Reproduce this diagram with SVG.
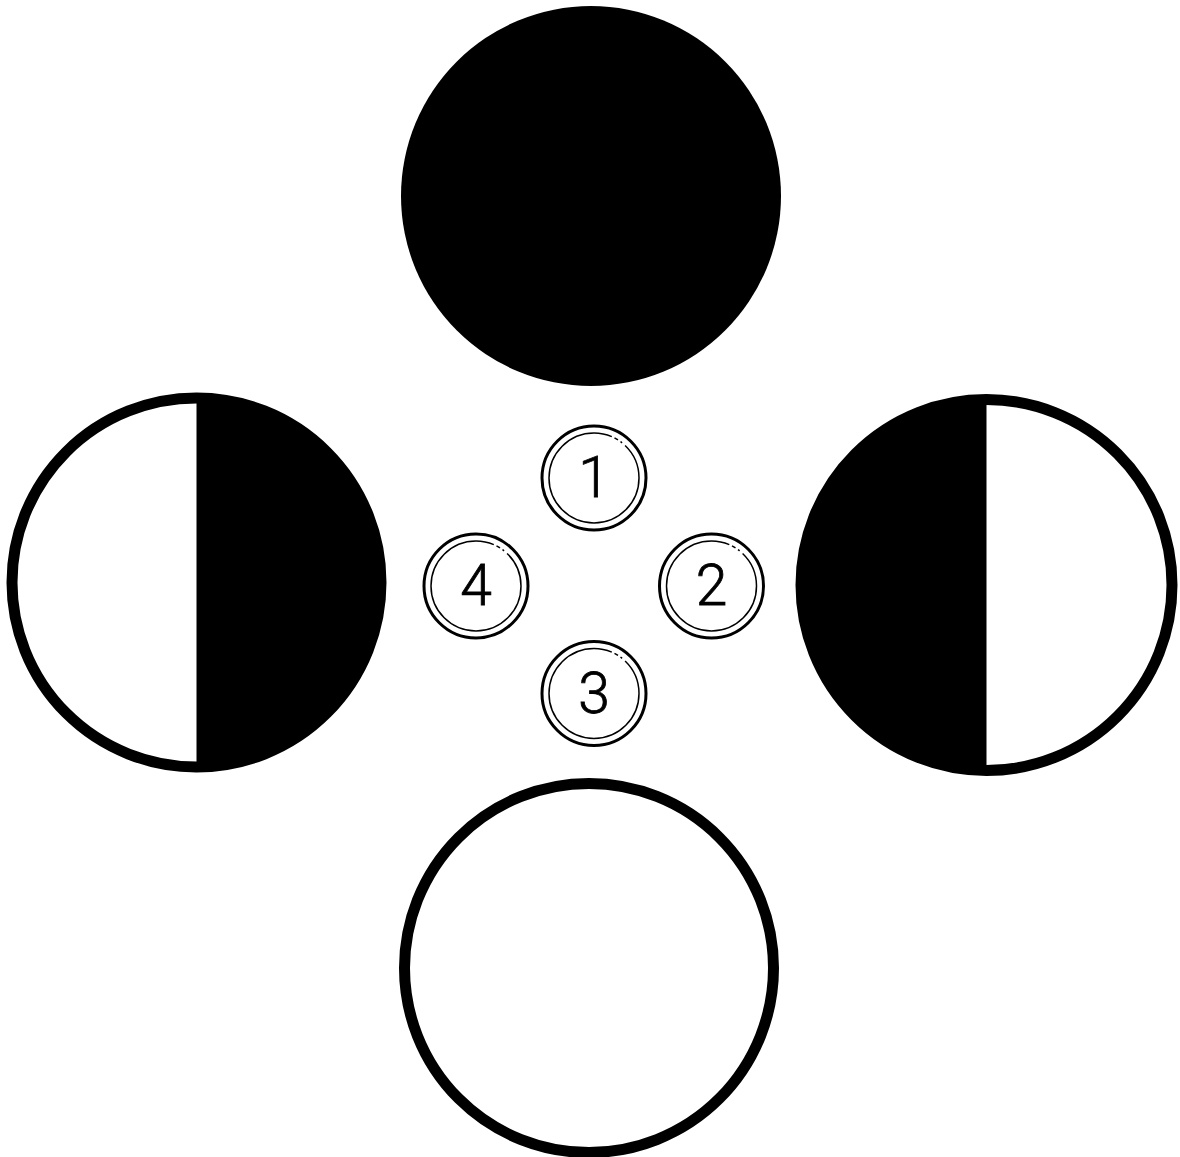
<svg xmlns="http://www.w3.org/2000/svg" width="1180" height="1157" viewBox="0 0 1180 1157">
<style>
.ring{fill:#fff;stroke:#000;stroke-width:11}
.outer{fill:#fff;stroke:#000;stroke-width:3}
.inner{fill:none;stroke:#000;stroke-width:1.5;stroke-dasharray:230 3 4 3 2 4 40}
.num{font-family:Roboto,"Liberation Sans",sans-serif;font-weight:300;font-size:57px;fill:#000;stroke:#000;stroke-width:0.8;text-anchor:middle}
</style>
<rect width="1180" height="1157" fill="#fff"/>
<g id="moon-top">
<circle cx="591" cy="196" r="190" fill="#000"/>
</g>
<g id="moon-left">
<circle class="ring" cx="196.5" cy="582.5" r="184.5"/>
<path d="M196.5 398 A184.5 184.5 0 0 1 196.5 767 Z" fill="#000"/>
</g>
<g id="moon-right">
<circle class="ring" cx="986.5" cy="585" r="185.5"/>
<path d="M986.5 399.5 A185.5 185.5 0 0 0 986.5 770.5 Z" fill="#000"/>
</g>
<g id="moon-bottom">
<circle class="ring" cx="589" cy="968" r="184.5"/>
</g>
<g id="badge-1">
<circle class="outer" cx="594" cy="478" r="52"/>
<circle class="inner" cx="594" cy="478" r="45"/>
<text class="num" x="594" y="497">1</text>
</g>
<g id="badge-2">
<circle class="outer" cx="711.5" cy="586" r="52"/>
<circle class="inner" cx="711.5" cy="586" r="45"/>
<text class="num" x="711.5" y="605">2</text>
</g>
<g id="badge-3">
<circle class="outer" cx="594" cy="693.5" r="52"/>
<circle class="inner" cx="594" cy="693.5" r="45"/>
<text class="num" x="594" y="712.5">3</text>
</g>
<g id="badge-4">
<circle class="outer" cx="476" cy="586" r="52"/>
<circle class="inner" cx="476" cy="586" r="45"/>
<text class="num" x="476" y="605">4</text>
</g>
<g id="connectors"/>
</svg>
